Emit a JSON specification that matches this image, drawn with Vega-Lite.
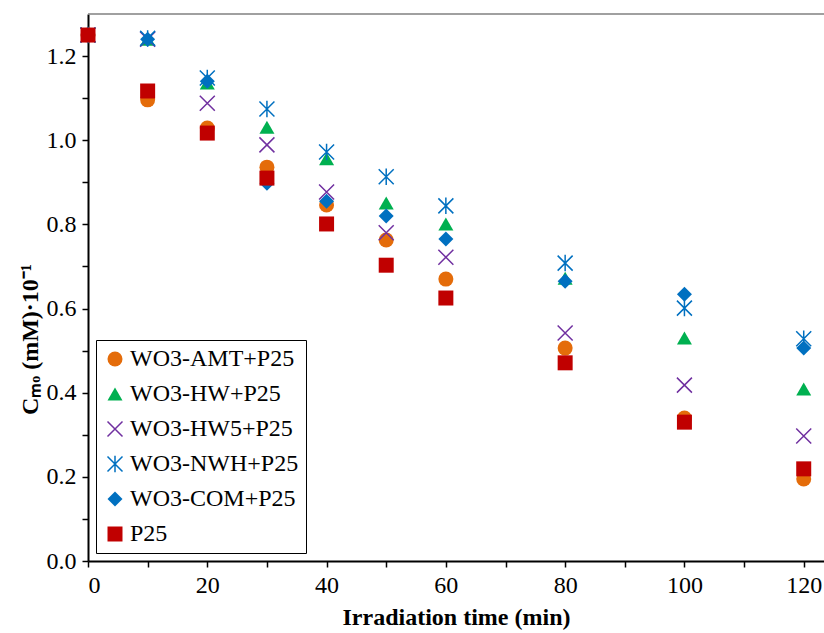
{
  "$schema": "https://vega.github.io/schema/vega-lite/v6.json",
  "width": 736,
  "height": 547,
  "autosize": {"type": "none"},
  "padding": {"left": 88, "top": 14, "right": 0, "bottom": 72},
  "background": "white",
  "config": {
    "view": {"stroke": null},
    "font": "Liberation Serif",
    "axis": {
      "grid": false,
      "domainColor": "black",
      "domainWidth": 2,
      "tickColor": "black",
      "tickWidth": 1.5,
      "tickSize": 6,
      "labelFont": "Liberation Serif",
      "labelFontSize": 24,
      "labelColor": "black",
      "titleFont": "Liberation Serif",
      "titleFontSize": 24,
      "titleFontWeight": "bold",
      "titleColor": "black"
    },
    "legend": {
      "orient": "bottom-left",
      "offset": 8,
      "strokeColor": "black",
      "fillColor": "white",
      "padding": 7,
      "labelFont": "Liberation Serif",
      "labelFontSize": 24,
      "labelColor": "black",
      "labelLimit": 400,
      "symbolSize": 225,
      "symbolStrokeWidth": 1.5,
      "symbolOpacity": 1,
      "rowPadding": 11,
      "labelOffset": 3
    }
  },
  "layer": [
    {
      "data": {"values": [{"top": 1.3}]},
      "mark": {"type": "rule", "color": "#808080", "strokeWidth": 1.5},
      "encoding": {
        "y": {"field": "top", "type": "quantitative", "scale": {"domain": [0, 1.3], "nice": false}}
      }
    },
    {
      "data": {
        "values": [
          {"series": "WO3-AMT+P25", "t": 0, "c": 1.25},
          {"series": "WO3-AMT+P25", "t": 10, "c": 1.096},
          {"series": "WO3-AMT+P25", "t": 20, "c": 1.029},
          {"series": "WO3-AMT+P25", "t": 30, "c": 0.936},
          {"series": "WO3-AMT+P25", "t": 40, "c": 0.846},
          {"series": "WO3-AMT+P25", "t": 50, "c": 0.763},
          {"series": "WO3-AMT+P25", "t": 60, "c": 0.670},
          {"series": "WO3-AMT+P25", "t": 80, "c": 0.506},
          {"series": "WO3-AMT+P25", "t": 100, "c": 0.340},
          {"series": "WO3-AMT+P25", "t": 120, "c": 0.195},
          {"series": "WO3-HW+P25", "t": 0, "c": 1.25},
          {"series": "WO3-HW+P25", "t": 10, "c": 1.240},
          {"series": "WO3-HW+P25", "t": 20, "c": 1.136},
          {"series": "WO3-HW+P25", "t": 30, "c": 1.031},
          {"series": "WO3-HW+P25", "t": 40, "c": 0.956},
          {"series": "WO3-HW+P25", "t": 50, "c": 0.851},
          {"series": "WO3-HW+P25", "t": 60, "c": 0.801},
          {"series": "WO3-HW+P25", "t": 80, "c": 0.672},
          {"series": "WO3-HW+P25", "t": 100, "c": 0.530},
          {"series": "WO3-HW+P25", "t": 120, "c": 0.409},
          {"series": "WO3-HW5+P25", "t": 0, "c": 1.25},
          {"series": "WO3-HW5+P25", "t": 10, "c": 1.240},
          {"series": "WO3-HW5+P25", "t": 20, "c": 1.088},
          {"series": "WO3-HW5+P25", "t": 30, "c": 0.989},
          {"series": "WO3-HW5+P25", "t": 40, "c": 0.877},
          {"series": "WO3-HW5+P25", "t": 50, "c": 0.780},
          {"series": "WO3-HW5+P25", "t": 60, "c": 0.722},
          {"series": "WO3-HW5+P25", "t": 80, "c": 0.542},
          {"series": "WO3-HW5+P25", "t": 100, "c": 0.418},
          {"series": "WO3-HW5+P25", "t": 120, "c": 0.297},
          {"series": "WO3-NWH+P25", "t": 0, "c": 1.25},
          {"series": "WO3-NWH+P25", "t": 10, "c": 1.242},
          {"series": "WO3-NWH+P25", "t": 20, "c": 1.148},
          {"series": "WO3-NWH+P25", "t": 30, "c": 1.074},
          {"series": "WO3-NWH+P25", "t": 40, "c": 0.972},
          {"series": "WO3-NWH+P25", "t": 50, "c": 0.913},
          {"series": "WO3-NWH+P25", "t": 60, "c": 0.844},
          {"series": "WO3-NWH+P25", "t": 80, "c": 0.708},
          {"series": "WO3-NWH+P25", "t": 100, "c": 0.601},
          {"series": "WO3-NWH+P25", "t": 120, "c": 0.528},
          {"series": "WO3-COM+P25", "t": 0, "c": 1.25},
          {"series": "WO3-COM+P25", "t": 10, "c": 1.240},
          {"series": "WO3-COM+P25", "t": 20, "c": 1.140},
          {"series": "WO3-COM+P25", "t": 30, "c": 0.898},
          {"series": "WO3-COM+P25", "t": 40, "c": 0.855},
          {"series": "WO3-COM+P25", "t": 50, "c": 0.820},
          {"series": "WO3-COM+P25", "t": 60, "c": 0.765},
          {"series": "WO3-COM+P25", "t": 80, "c": 0.665},
          {"series": "WO3-COM+P25", "t": 100, "c": 0.634},
          {"series": "WO3-COM+P25", "t": 120, "c": 0.506},
          {"series": "P25", "t": 0, "c": 1.25},
          {"series": "P25", "t": 10, "c": 1.117},
          {"series": "P25", "t": 20, "c": 1.017},
          {"series": "P25", "t": 30, "c": 0.910},
          {"series": "P25", "t": 40, "c": 0.801},
          {"series": "P25", "t": 50, "c": 0.703},
          {"series": "P25", "t": 60, "c": 0.625},
          {"series": "P25", "t": 80, "c": 0.471},
          {"series": "P25", "t": 100, "c": 0.330},
          {"series": "P25", "t": 120, "c": 0.219}
        ]
      },
      "mark": {"type": "point", "size": 225, "opacity": 1, "strokeWidth": 1.5, "clip": false},
      "encoding": {
        "x": {
          "field": "t",
          "type": "quantitative",
          "scale": {"domain": [0, 123.4], "nice": false},
          "axis": {
            "values": [0, 10, 20, 30, 40, 50, 60, 70, 80, 90, 100, 110, 120],
            "labelExpr": "datum.value % 20 == 0 ? datum.label : ''",
            "labelPadding": 6,
            "titlePadding": 8,
            "title": "Irradiation time (min)"
          }
        },
        "y": {
          "field": "c",
          "type": "quantitative",
          "scale": {"domain": [0, 1.3], "nice": false},
          "axis": {
            "values": [0, 0.1, 0.2, 0.3, 0.4, 0.5, 0.6, 0.7, 0.8, 0.9, 1.0, 1.1, 1.2],
            "labelExpr": "round(datum.value * 10) % 2 == 0 ? format(datum.value, '.1f') : ''",
            "labelPadding": 6,
            "titlePadding": 4,
            "titleY": 325,
            "title": "Cₘₒ (mM)·10⁻¹"
          }
        },
        "fill": {
          "field": "series",
          "type": "nominal",
          "title": null,
          "scale": {
            "domain": ["WO3-AMT+P25", "WO3-HW+P25", "WO3-HW5+P25", "WO3-NWH+P25", "WO3-COM+P25", "P25"],
            "range": ["#E46C0A", "#00B050", "transparent", "transparent", "#0070C0", "#C00000"]
          }
        },
        "stroke": {
          "field": "series",
          "type": "nominal",
          "title": null,
          "scale": {
            "domain": ["WO3-AMT+P25", "WO3-HW+P25", "WO3-HW5+P25", "WO3-NWH+P25", "WO3-COM+P25", "P25"],
            "range": ["transparent", "transparent", "#7030A0", "#0070C0", "transparent", "transparent"]
          }
        },
        "shape": {
          "field": "series",
          "type": "nominal",
          "title": null,
          "scale": {
            "domain": ["WO3-AMT+P25", "WO3-HW+P25", "WO3-HW5+P25", "WO3-NWH+P25", "WO3-COM+P25", "P25"],
            "range": ["circle", "triangle-up", "M-1,-1L1,1M-1,1L1,-1", "M-1,-1L1,1M-1,1L1,-1M0,-1.1L0,1.1", "diamond", "square"]
          }
        }
      }
    }
  ]
}
